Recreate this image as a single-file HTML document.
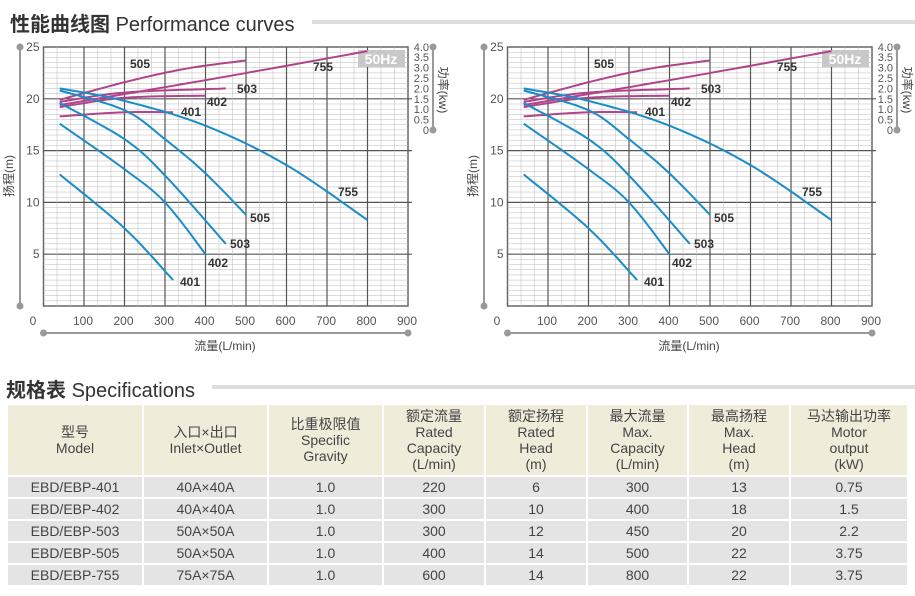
<!DOCTYPE html>
<html><head><meta charset="utf-8"><style>
body{margin:0;width:915px;height:596px;background:#fff;overflow:hidden;font-family:"Liberation Sans","Noto Sans CJK SC",sans-serif;color:#333;position:relative}
.t{position:absolute;white-space:nowrap}
table{position:absolute;left:6px;top:403px;border-collapse:collapse;table-layout:fixed}
td{border:2px solid #fff;text-align:center;font-size:14px;color:#444;padding:0;line-height:16px}
tr.h td{background:#efedda;height:70px;font-size:14px}
tr.r td{background:#e4e4e4;height:20px}
</style></head><body>
<div class="t" style="left:10px;top:8px;font-size:20px;font-weight:bold;color:#333">性能曲线图 <span style="font-weight:normal">Performance curves</span></div>
<div style="position:absolute;left:312px;top:20px;width:603px;height:4px;background:#ddd"></div>
<div class="t" style="left:6px;top:374px;font-size:20px;font-weight:bold;color:#333">规格表 <span style="font-weight:normal">Specifications</span></div>
<div style="position:absolute;left:212px;top:385px;width:703px;height:4px;background:#ddd"></div>
<svg id="s" width="915" height="400" style="position:absolute;left:0;top:0" font-family="Liberation Sans, Noto Sans CJK SC, sans-serif"></svg>
<table>
<colgroup><col style="width:136px"><col style="width:125px"><col style="width:115px"><col style="width:102px"><col style="width:102px"><col style="width:101px"><col style="width:102px"><col style="width:118px"></colgroup>
<tr class="h"><td>型号<br>Model</td><td>入口×出口<br>Inlet×Outlet</td><td>比重极限值<br>Specific<br>Gravity</td><td>额定流量<br>Rated<br>Capacity<br>(L/min)</td><td>额定扬程<br>Rated<br>Head<br>(m)</td><td>最大流量<br>Max.<br>Capacity<br>(L/min)</td><td>最高扬程<br>Max.<br>Head<br>(m)</td><td>马达输出功率<br>Motor<br>output<br>(kW)</td></tr>
<tr class="r"><td>EBD/EBP-401</td><td>40A×40A</td><td>1.0</td><td>220</td><td>6</td><td>300</td><td>13</td><td>0.75</td></tr>
<tr class="r"><td>EBD/EBP-402</td><td>40A×40A</td><td>1.0</td><td>300</td><td>10</td><td>400</td><td>18</td><td>1.5</td></tr>
<tr class="r"><td>EBD/EBP-503</td><td>50A×50A</td><td>1.0</td><td>300</td><td>12</td><td>450</td><td>20</td><td>2.2</td></tr>
<tr class="r"><td>EBD/EBP-505</td><td>50A×50A</td><td>1.0</td><td>400</td><td>14</td><td>500</td><td>22</td><td>3.75</td></tr>
<tr class="r"><td>EBD/EBP-755</td><td>75A×75A</td><td>1.0</td><td>600</td><td>14</td><td>800</td><td>22</td><td>3.75</td></tr>
</table>
<script>
var s='';
function chart(ox){
 var X=function(q){return ox+43.5+q*0.405}, Y=function(h){return 306-h*10.36};
 var x0=X(0),x1=X(900),y0=Y(0),y1=Y(25);
 s+='<rect x="'+x0+'" y="'+y1+'" width="'+(x1-x0)+'" height="'+(y0-y1)+'" fill="#fff" stroke="#666" stroke-width="1.5"/>';
 for(var h=0.5;h<25;h+=0.5){var y=Y(h);var maj=Math.abs(h%5)<0.01;s+='<line x1="'+x0+'" x2="'+(x1+(maj?4:0))+'" y1="'+y+'" y2="'+y+'" stroke="'+(maj?'#555':'#bbb')+'" stroke-width="'+(maj?1.2:0.5)+'"/>';}
 for(var q=100/3;q<900;q+=100/3){var x=X(q);var maj=Math.abs(q/100-Math.round(q/100))<0.01;s+='<line x1="'+x+'" x2="'+x+'" y1="'+y1+'" y2="'+y0+'" stroke="'+(maj?'#555':'#bbb')+'" stroke-width="'+(maj?1.2:0.5)+'"/>';}
 s+='<rect x="'+(ox+358)+'" y="50" width="47" height="17" fill="#c8c8c8"/><text x="'+(ox+381)+'" y="64" font-size="14" font-weight="bold" fill="#fff" text-anchor="middle">50Hz</text>';
 function curve(p,c){var d='M';p.forEach(function(a,i){d+=(i?' L':'')+X(a[0]).toFixed(1)+' '+Y(a[1]).toFixed(1);});s+='<path d="'+d+'" fill="none" stroke="'+c+'" stroke-width="2"/>';}
 function sm(p){var o=[];for(var i=0;i<p.length-1;i++){for(var t=0;t<1;t+=0.1){var a=p[Math.max(i-1,0)],b=p[i],c=p[i+1],d=p[Math.min(i+2,p.length-1)];var t2=t*t,t3=t2*t;var f=function(k){return 0.5*((2*b[k])+(-a[k]+c[k])*t+(2*a[k]-5*b[k]+4*c[k]-d[k])*t2+(-a[k]+3*b[k]-3*c[k]+d[k])*t3)};o.push([f(0),f(1)]);}}o.push(p[p.length-1]);return o;}
 var P='#b0448a',B='#1a8cc8';
 curve(sm([[40,19.9],[200,21.6],[350,22.9],[500,23.7]]),P);
 curve(sm([[40,19.4],[400,21.8],[800,24.6]]),P);
 curve(sm([[40,19.7],[200,20.6],[450,21]]),P);
 curve(sm([[40,19.2],[200,20.1],[400,20.3]]),P);
 curve(sm([[40,18.3],[200,18.7],[320,18.7]]),P);
 curve(sm([[40,12.7],[200,7.5],[320,2.5]]),B);
 curve(sm([[40,17.6],[200,13.2],[300,10],[400,5]]),B);
 curve(sm([[40,19.6],[200,16.1],[300,12.6],[450,6]]),B);
 curve(sm([[40,20.8],[200,18.9],[300,16.1],[400,12.8],[500,8.8]]),B);
 curve(sm([[40,21],[200,19.8],[400,17.4],[600,13.6],[800,8.3]]),B);
 var L=[[130,68,'505'],[313,71,'755'],[237,93,'503'],[207,106,'402'],[181,116,'401'],[338,196,'755'],[250,222,'505'],[230,248,'503'],[208,267,'402'],[180,286,'401']];
 L.forEach(function(l){s+='<text x="'+(ox+l[0])+'" y="'+l[1]+'" font-size="12" font-weight="bold" fill="#333">'+l[2]+'</text>';});
 [0,5,10,15,20,25].forEach(function(h){if(h)s+='<text x="'+(x0-4)+'" y="'+(Y(h)+4)+'" font-size="12" fill="#555" text-anchor="end">'+h+'</text>';});
 for(var q=0;q<=900;q+=100){s+='<text x="'+(q?X(q)-1:ox+33)+'" y="325" font-size="12" fill="#555" text-anchor="middle">'+q+'</text>';}
 for(var k=0;k<=8;k++){var v=k/2;s+='<text x="'+(ox+429)+'" y="'+(130-k*10.4+4)+'" font-size="11" fill="#555" text-anchor="end">'+(k?v.toFixed(1):'0')+'</text>';}
 s+='<line x1="'+(ox+20)+'" x2="'+(ox+20)+'" y1="47" y2="306" stroke="#999" stroke-width="2"/><circle cx="'+(ox+20)+'" cy="47" r="3.5" fill="#999"/><circle cx="'+(ox+20)+'" cy="306" r="3.5" fill="#999"/>';
 s+='<line x1="'+x0+'" x2="'+x1+'" y1="333" y2="333" stroke="#999" stroke-width="2"/><circle cx="'+x0+'" cy="333" r="3.5" fill="#999"/><circle cx="'+x1+'" cy="333" r="3.5" fill="#999"/>';
 s+='<line x1="'+(ox+433)+'" x2="'+(ox+433)+'" y1="47" y2="130" stroke="#999" stroke-width="2"/><circle cx="'+(ox+433)+'" cy="47" r="3.5" fill="#999"/><circle cx="'+(ox+433)+'" cy="130" r="3.5" fill="#999"/>';
 s+='<text x="'+(ox+225)+'" y="350" font-size="12" fill="#444" text-anchor="middle">流量(L/min)</text>';
 s+='<text transform="translate('+(ox+13)+',176) rotate(-90)" font-size="12" fill="#444" text-anchor="middle">扬程(m)</text>';
 s+='<text transform="translate('+(ox+439)+',90) rotate(90)" font-size="12" fill="#444" text-anchor="middle">功率(kw)</text>';
}
chart(0);chart(464);
document.getElementById('s').innerHTML=s;
</script>
</body></html>
